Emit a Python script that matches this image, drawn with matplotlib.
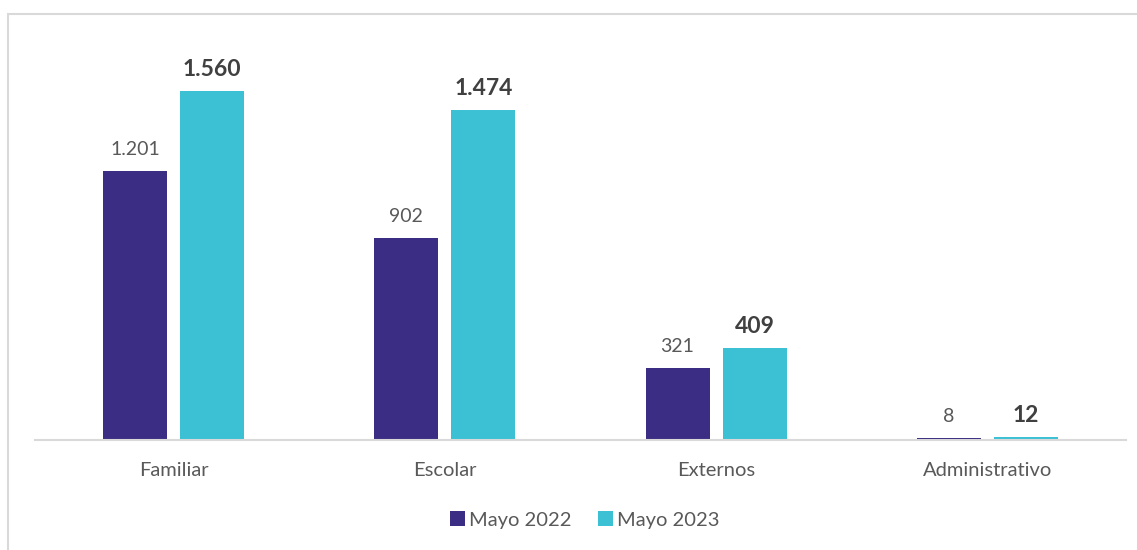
import numpy as np
import matplotlib.pyplot as plt
from matplotlib.patches import Rectangle

categorias = ['Familiar', 'Escolar', 'Externos', 'Administrativo']
mayo_2022 = [1201, 902, 321, 8]
mayo_2023 = [1560, 1474, 409, 12]
etiquetas_2022 = ['1.201', '902', '321', '8']
etiquetas_2023 = ['1.560', '1.474', '409', '12']

plt.rcParams['font.family'] = ['Lato', 'DejaVu Sans']

color_22 = '#3b2d83'
color_23 = '#3bc0d4'
gris = '#595959'

fig = plt.figure(figsize=(11.37, 5.5), dpi=100)
ax = fig.add_axes([0.031, 0.2, 0.959, 0.735])

# marco gris del grafico
fig.patches.append(Rectangle((8/1137, -0.1), 1.2, 1.1 - 14/550, transform=fig.transFigure,
                             fill=False, edgecolor='#d9d9d9', linewidth=1.5))

x = np.arange(len(categorias))
w = 0.236
off = 0.142
ax.bar(x - off, mayo_2022, w, color=color_22, label='Mayo 2022')
ax.bar(x + off, mayo_2023, w, color=color_23, label='Mayo 2023')

for i in range(len(categorias)):
    ax.annotate(etiquetas_2022[i], (x[i] - off, mayo_2022[i]), xytext=(0, 9.5),
                textcoords='offset points', ha='center', va='bottom', fontsize=14, color=gris)
    ax.annotate(etiquetas_2023[i], (x[i] + off, mayo_2023[i]), xytext=(0, 8),
                textcoords='offset points', ha='center', va='bottom', fontsize=16.5,
                fontweight='bold', color='#404040')

ax.set_xlim(-0.51, 3.51)
ax.set_ylim(0, 1805)
ax.set_xticks(x)
ax.set_xticklabels(categorias, fontsize=14.5, color=gris)
ax.tick_params(axis='x', length=0, pad=16)
ax.set_yticks([])
for s in ['top', 'right', 'left']:
    ax.spines[s].set_visible(False)
ax.spines['bottom'].set_color('#d9d9d9')
ax.spines['bottom'].set_linewidth(1.5)

fig.legend(loc='center', bbox_to_anchor=(585/1137, 1 - 520/550), ncol=2, frameon=False,
           fontsize=14.5, labelcolor=gris, handlelength=0.75, handleheight=0.75,
           handletextpad=0.2, columnspacing=1.3)

fig.savefig('out.png', dpi=100)
